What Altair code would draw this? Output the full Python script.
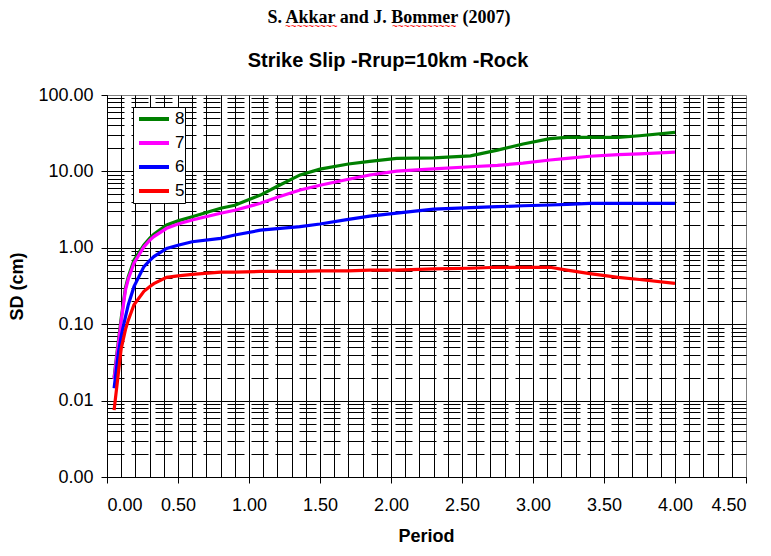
import altair as alt
import pandas as pd

main_title = "S. Akkar and J. Bommer (2007)"
sub_title = "Strike Slip -Rrup=10km -Rock"
squiggle = "~~~~~~~~~~~"

periods = [0.05, 0.08, 0.10, 0.13, 0.15, 0.19, 0.26, 0.30, 0.33, 0.42, 0.50, 0.60,
           0.80, 0.90, 1.08, 1.20, 1.36, 1.50, 1.70, 1.85, 2.04, 2.30, 2.56, 2.75,
           2.93, 3.12, 3.24, 3.40, 3.60, 3.75, 4.00]

sd_m8 = [0.020, 0.060, 0.12, 0.30, 0.42, 0.69, 1.09, 1.33, 1.50, 1.99, 2.25, 2.55,
         3.29, 3.60, 4.9, 6.4, 9.0, 10.7, 12.5, 13.5, 14.8, 15.0, 16.0, 19.0,
         22.8, 26.8, 27.9, 27.9, 27.9, 29.3, 32.5]
sd_m7 = [0.019, 0.056, 0.11, 0.28, 0.39, 0.63, 1.03, 1.25, 1.40, 1.80, 2.05, 2.31,
         2.83, 3.1, 3.82, 4.6, 5.71, 6.6, 7.88, 8.97, 10.1, 10.8, 11.5, 12.0,
         12.8, 14.1, 14.8, 15.8, 16.6, 17.0, 17.9]
sd_m6 = [0.0145, 0.042, 0.07, 0.125, 0.18, 0.31, 0.567, 0.68, 0.766, 0.98, 1.08, 1.20,
         1.33, 1.47, 1.70, 1.78, 1.89, 2.05, 2.36, 2.6, 2.85, 3.2, 3.35, 3.45,
         3.55, 3.63, 3.7, 3.82, 3.82, 3.82, 3.82]
sd_m5 = [0.0075, 0.023, 0.048, 0.085, 0.113, 0.18, 0.27, 0.31, 0.34, 0.41, 0.43, 0.45,
         0.48, 0.48, 0.49, 0.49, 0.49, 0.50, 0.50, 0.51, 0.51, 0.53, 0.54, 0.556,
         0.556, 0.556, 0.51, 0.46, 0.41, 0.385, 0.343]

series_names = ["8", "7", "6", "5"]
series_colors = ["#008000", "#FF00FF", "#0000FF", "#FF0000"]
series_values = [sd_m8, sd_m7, sd_m6, sd_m5]

x_ticks_major = [0.0, 0.5, 1.0, 1.5, 2.0, 2.5, 3.0, 3.5, 4.0, 4.5]
x_ticks_all = [round(i * 0.1, 1) for i in range(46)]
y_ticks_major = [0.001, 0.01, 0.1, 1, 10, 100]
y_ticks_minor = [round(m * 10 ** e, 4) for e in range(-3, 2) for m in range(2, 10)]
y_ticks_all = sorted(y_ticks_major + y_ticks_minor)

rows = []
for name, vals in zip(series_names, series_values):
    for p, v in zip(periods, vals):
        rows.append({"Period": p, "SD": v, "M": name})
df = pd.DataFrame(rows)

FONT = "Liberation Sans"
x_major_test = "indexof(%s, datum.value) >= 0" % str(x_ticks_major)
y_major_test = "indexof(%s, datum.value) >= 0" % str(y_ticks_major)

x_axis = alt.Axis(
    values=x_ticks_all,
    labelExpr=f"{x_major_test} ? format(datum.value, '.2f') : ''",
    labelOverlap=False,
    labelFont=FONT, labelFontSize=18, labelColor="black", labelPadding=13,
    tickColor="black", tickSize=6,
    tickOpacity={"condition": {"test": x_major_test, "value": 1}, "value": 0},
    domainColor="black", domainWidth=1,
    grid=True, gridColor="black", gridWidth=1,
    gridOpacity={"condition": {"test": "datum.value >= 4.45", "value": 0}, "value": 1},
    title="Period", titleFont=FONT, titleFontSize=18, titleFontWeight="bold",
    titleColor="black", titleX=319, titleY=64, titleBaseline="alphabetic",
)

y_axis = alt.Axis(
    values=y_ticks_all,
    labelExpr=f"{y_major_test} ? format(datum.value, '.2f') : ''",
    labelOverlap=False,
    labelFont=FONT, labelFontSize=18, labelColor="black", labelPadding=8,
    tickColor="black", tickSize=6,
    tickOpacity={"condition": {"test": y_major_test, "value": 1}, "value": 0},
    domainColor="black", domainWidth=1,
    grid=True, gridColor="black", gridWidth=1,
    gridDash={"condition": {"test": y_major_test, "value": []}, "value": [17, 7]},
    gridOpacity={"condition": {"test": "datum.value >= 99", "value": 0}, "value": 1},
    title="SD (cm)", titleFont=FONT, titleFontSize=18, titleFontWeight="bold",
    titleColor="black", titleX=-85, titleY=191, titleBaseline="alphabetic",
)

lines = alt.Chart(df).mark_line(strokeWidth=3.2).encode(
    x=alt.X("Period:Q", scale=alt.Scale(domain=[0, 4.5], nice=False, zero=False), axis=x_axis),
    y=alt.Y("SD:Q", scale=alt.Scale(type="log", domain=[0.001, 100], nice=False), axis=y_axis),
    color=alt.Color(
        "M:N",
        scale=alt.Scale(domain=series_names, range=series_colors),
        legend=alt.Legend(
            orient="none", legendX=26, legendY=12, title=None,
            symbolType="stroke", symbolStrokeWidth=4, symbolSize=900,
            symbolOffset=4,
            labelFont=FONT, labelFontSize=17, labelColor="black",
            strokeColor="black", fillColor="white", padding=0,
            rowPadding=0, labelOffset=4, clipHeight=24,
        ),
    ),
    order=alt.Order("Period:Q"),
)

title_text = alt.Chart(pd.DataFrame({"t": [main_title]})).mark_text(
    font="Liberation Serif", fontSize=18, fontWeight="bold", color="black",
    align="center", baseline="alphabetic",
).encode(text="t:N", x=alt.value(282), y=alt.value(-72))

squiggle_akkar = alt.Chart(pd.DataFrame({"t": [squiggle[:9]]})).mark_text(
    font=FONT, fontSize=10, color="#FF0000", align="left", baseline="middle",
).encode(text="t:N", x=alt.value(178), y=alt.value(-68))
squiggle_bommer = alt.Chart(pd.DataFrame({"t": [squiggle]})).mark_text(
    font=FONT, fontSize=10, color="#FF0000", align="left", baseline="middle",
).encode(text="t:N", x=alt.value(285), y=alt.value(-68))

sub_text = alt.Chart(pd.DataFrame({"t": [sub_title]})).mark_text(
    font=FONT, fontSize=20, fontWeight="bold", color="black",
    align="center", baseline="alphabetic",
).encode(text="t:N", x=alt.value(281), y=alt.value(-28))

chart = alt.layer(lines, title_text, squiggle_akkar, squiggle_bommer, sub_text).properties(
    width=639, height=382,
    autosize=alt.AutoSizeParams(type="none"),
    padding={"left": 99, "top": 87, "right": 17, "bottom": 71},
    background="white",
).configure_view(stroke="#808080", strokeWidth=1)

chart.save("out.html", embed_options={"renderer": "svg", "actions": False})
